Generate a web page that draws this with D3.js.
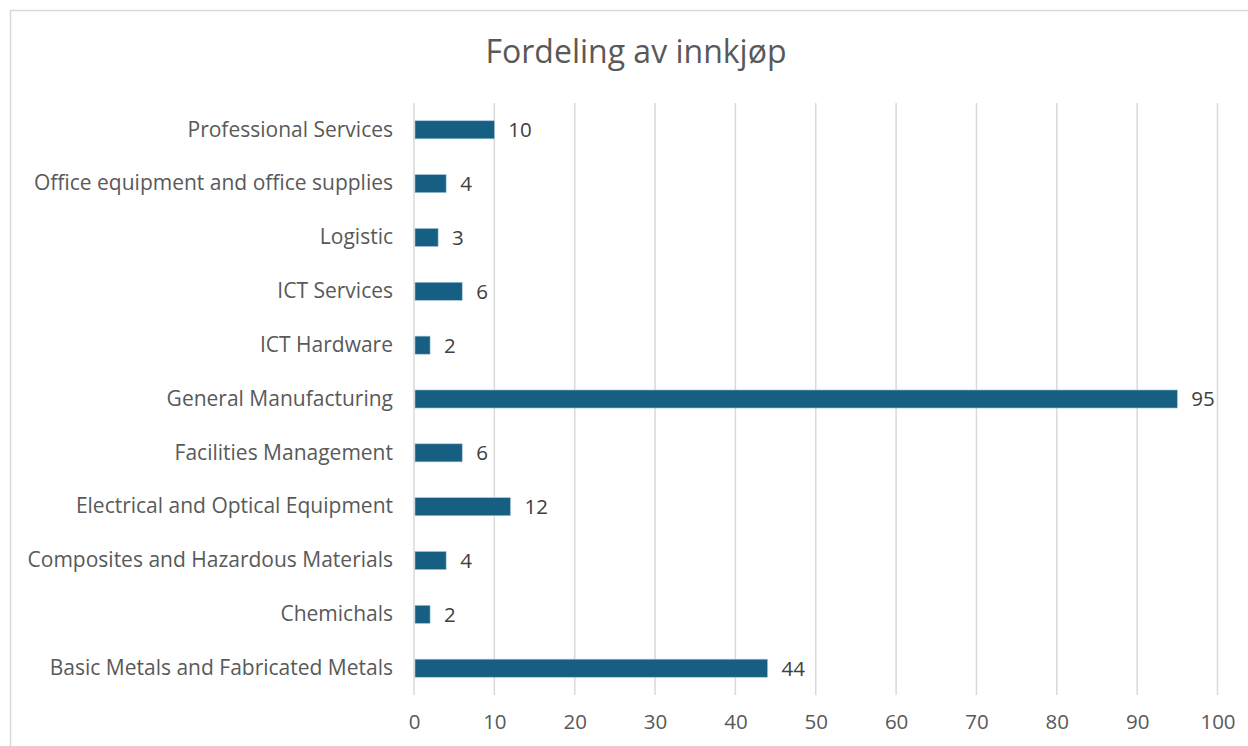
<!DOCTYPE html>
<html>
<head>
<meta charset="utf-8">
<script src="https://cdn.jsdelivr.net/npm/d3@7"></script>
<style>
  body { margin: 0; background: #fff; }
  svg text { font-family: "Open Sans", sans-serif; }
</style>
</head>
<body>
<div id="chart"></div>
<script>
// data, top to bottom
const categories = [
  "Professional Services",
  "Office equipment and office supplies",
  "Logistic",
  "ICT Services",
  "ICT Hardware",
  "General Manufacturing",
  "Facilities Management",
  "Electrical and Optical Equipment",
  "Composites and Hazardous Materials",
  "Chemichals",
  "Basic Metals and Fabricated Metals"
];
const values = [10, 4, 3, 6, 2, 95, 6, 12, 4, 2, 44];
const xTicks = [0, 10, 20, 30, 40, 50, 60, 70, 80, 90, 100];
const title = "Fordeling av innkjøp";

const width = 1248, height = 746;
const margin = {top: 103, left: 414, right: 30.5, bottom: 51};

const svg = d3.select("#chart").append("svg")
    .attr("width", width)
    .attr("height", height);

// chart frame (cut by the window on right and bottom)
svg.append("rect")
    .attr("x", 10.5).attr("y", 10.5)
    .attr("width", width + 20).attr("height", height + 20)
    .attr("fill", "#fff")
    .attr("stroke", "#d9d9d9")
    .attr("stroke-width", 1.5);

const x = d3.scaleLinear()
    .domain([0, 100])
    .range([margin.left, width - margin.right]);

const y = d3.scaleBand()
    .domain(categories)
    .range([margin.top, height - margin.bottom])
    .paddingInner(0.665)
    .paddingOuter(0.33);

// vertical gridlines
svg.append("g")
    .selectAll("line")
    .data(xTicks)
    .enter().append("line")
    .attr("x1", d => x(d)).attr("x2", d => x(d))
    .attr("y1", margin.top).attr("y2", height - margin.bottom)
    .attr("stroke", "#d9d9d9")
    .attr("stroke-width", 1.5);

// bars
svg.append("g")
    .selectAll("rect")
    .data(values)
    .enter().append("rect")
    .attr("x", x(0) + 1)
    .attr("y", (d, i) => y(categories[i]))
    .attr("width", d => x(d) - x(0) - 1)
    .attr("height", y.bandwidth())
    .attr("fill", "#175f82")
    .attr("stroke", "#9fc3d6")
    .attr("stroke-width", 0.6);

// data labels
svg.append("g")
    .selectAll("text")
    .data(values)
    .enter().append("text")
    .attr("x", d => x(d) + 14)
    .attr("y", (d, i) => y(categories[i]) + y.bandwidth() / 2)
    .attr("dy", "0.36em")
    .attr("fill", "#404040")
    .style("font-size", "20.5px")
    .text(d => d);

// category axis
const yAxis = svg.append("g")
    .attr("transform", `translate(${margin.left},0)`)
    .call(d3.axisLeft(y).tickSize(0).tickPadding(21));
yAxis.select(".domain").remove();
yAxis.selectAll("text")
    .attr("fill", "#595959")
    .style("font-size", "21px");

// value axis
const xAxis = svg.append("g")
    .attr("transform", `translate(0,${height - margin.bottom})`)
    .call(d3.axisBottom(x).tickValues(xTicks).tickSize(0).tickPadding(19));
xAxis.select(".domain").remove();
xAxis.selectAll("text")
    .attr("fill", "#595959")
    .style("font-size", "20.5px");

// title
svg.append("text")
    .attr("x", 636)
    .attr("y", 63)
    .attr("text-anchor", "middle")
    .attr("fill", "#595959")
    .style("font-size", "32px")
    .text(title);
</script>
</body>
</html>
